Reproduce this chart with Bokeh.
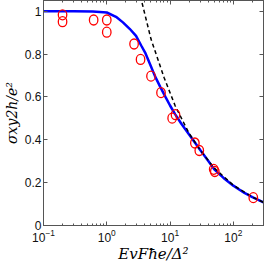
import math
from bokeh.plotting import figure
from bokeh.models import (LogAxis, LinearAxis, FixedTicker, Range1d)
from bokeh.embed import file_html
from bokeh.resources import INLINE

# ---- data ----
curve_x = [0.1, 0.3, 0.6, 1.0, 1.4, 1.8, 2.3, 2.9, 3.5, 4.1, 5.0, 5.8, 7.0, 8.5,
           10, 12, 15, 20, 25, 30, 40, 50, 70, 100, 150, 200, 300]
curve_y = [1.0, 1.0, 0.999, 0.994, 0.974, 0.948, 0.918, 0.885, 0.84, 0.803, 0.742,
           0.696, 0.647, 0.599, 0.56, 0.52, 0.476, 0.425, 0.385, 0.352, 0.302,
           0.262, 0.222, 0.186, 0.152, 0.132, 0.108]

asym_x = [3.4, 5.0, 8.1, 12, 20, 30, 50, 100, 200, 300]
asym_y = [1.07, 0.87, 0.688, 0.56, 0.43, 0.352, 0.268, 0.188, 0.133, 0.108]

pts_x = [0.2, 0.2, 0.62, 1.0, 1.0, 2.7, 3.42, 5.0, 7.2, 10.8, 12.2, 24.7, 29,
         49, 51, 207]
pts_y = [0.983, 0.951, 0.959, 0.959, 0.902, 0.847, 0.775, 0.697, 0.62, 0.501,
         0.517, 0.385, 0.35, 0.262, 0.252, 0.13]

x_ticks = [0.1, 1, 10, 100]
x_tick_labels = ["10\u207b\u00b9", "10\u2070", "10\u00b9", "10\u00b2"]
x_minor = [0.2, 0.3, 0.4, 0.5, 0.6, 0.7, 0.8, 0.9, 2, 3, 4, 5, 6, 7, 8, 9,
           20, 30, 40, 50, 60, 70, 80, 90, 200, 300]
y_ticks = [0, 0.2, 0.4, 0.6, 0.8, 1]
y_tick_labels = ["0", "0.2", "0.4", "0.6", "0.8", "1"]

x_label = "Ev\u0046\u0127e/\u0394\u00b2"
y_label = "\u03c3xy2h/e\u00b2"

X_MIN, X_MAX = 0.1, 300
Y_MIN, Y_MAX = 0.0, 1.05

# ---- layout ----
W, H = 265, 265
AX = "#555555"

p = figure(width=W, height=H, x_axis_type="log", output_backend="svg",
           toolbar_location=None, x_range=Range1d(X_MIN, X_MAX),
           y_range=Range1d(Y_MIN, Y_MAX),
           min_border_left=0, min_border_right=2, min_border_top=0,
           min_border_bottom=0, background_fill_color="white",
           border_fill_color="white")
p.grid.visible = False
p.outline_line_color = AX
p.outline_line_width = 1

xt = FixedTicker(ticks=x_ticks, minor_ticks=x_minor)
yt = FixedTicker(ticks=y_ticks, minor_ticks=[])


def style(ax, labels):
    ax.axis_line_color = AX
    ax.major_tick_line_color = AX
    ax.minor_tick_line_color = AX
    ax.major_tick_in = 4
    ax.major_tick_out = 0
    ax.minor_tick_in = 2
    ax.minor_tick_out = 0
    ax.major_label_text_font = "Liberation Sans"
    ax.major_label_text_color = "#111111"
    ax.axis_label_text_font = "DejaVu Serif"
    ax.axis_label_text_font_style = "italic"
    ax.axis_label_text_font_size = "15px"
    ax.axis_label_text_color = "black"
    ax.axis_label_standoff = 0
    if labels:
        ax.major_label_text_font_size = "12px"
        ax.major_label_standoff = 3
    else:
        ax.major_label_text_font_size = "1px"
        ax.major_label_text_alpha = 0
        ax.major_label_standoff = 0


bx = p.xaxis[0]
bx.ticker = xt
bx.major_label_overrides = {str(k): v for k, v in zip(x_ticks, x_tick_labels)}
style(bx, True)
bx.axis_label = x_label
ly = p.yaxis[0]
ly.ticker = yt
ly.major_label_overrides = {str(k): v for k, v in zip(y_ticks, y_tick_labels)}
style(ly, True)
ly.axis_label = y_label
ly.axis_label_text_font_size = "14px"
ly.major_label_standoff = 2
ly.axis_label_standoff = 2

tx = LogAxis(ticker=xt)
style(tx, False)
p.add_layout(tx, "above")
ry = LinearAxis(ticker=yt)
style(ry, False)
p.add_layout(ry, "right")

# ---- marks ----
p.line(curve_x, curve_y, line_color="#0000ff", line_width=2.5)
p.line(asym_x, asym_y, line_color="black", line_width=1.5, line_dash="4 3")
p.ellipse(x=pts_x, y=pts_y, width=8.5, height=10, width_units="screen",
          height_units="screen", fill_color=None, line_color="#ff0000",
          line_width=1.3)

open("out.html", "w").write(file_html(p, INLINE))
